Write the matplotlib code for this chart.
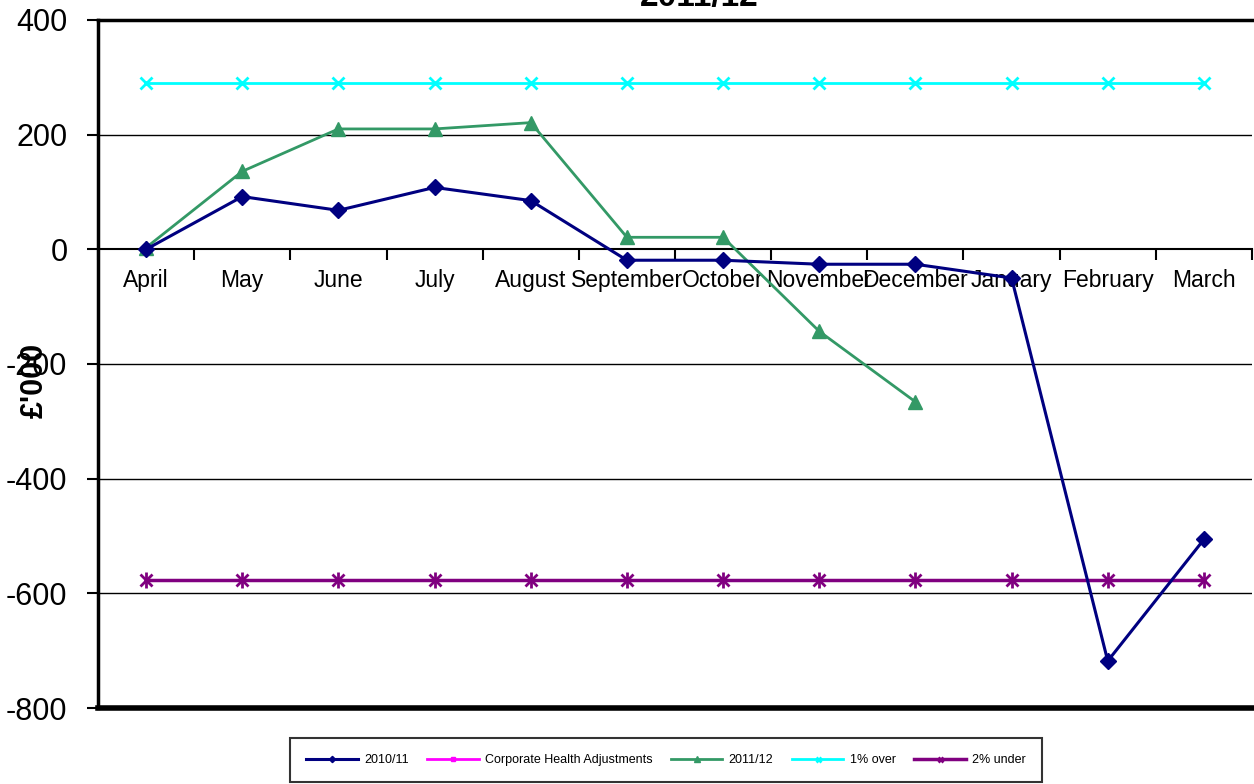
import matplotlib
matplotlib.use("Agg")
import matplotlib.pyplot as plt
import numpy as np

months = ["April", "May", "June", "July", "August", "September", "October",
          "November", "December", "January", "February", "March"]
s2010 = [0, 92, 68, 108, 85, -19, -19, -26, -26, -50, -718, -506]
corp_adj = []
s2011 = [3, 136, 210, 210, 221, 21, 21, -143, -266]
over1 = [290] * 12
under2 = [-576] * 12
yticks = [-800, -600, -400, -200, 0, 200, 400]

plt.rcParams['font.family'] = ['Liberation Sans', 'DejaVu Sans']

fig = plt.figure(figsize=(12.54, 7.84), dpi=100)
ax = fig.add_axes([98/1254, 1-708/784, (1252-98)/1254, (708-20)/784])

x = np.arange(len(months)) + 0.5
ax.plot(x, s2010, color='#000080', lw=2.2, marker='D', ms=8, label='2010/11', zorder=5)
ax.plot(x[:len(corp_adj)], corp_adj, color='#FF00FF', lw=2, marker='s', ms=6,
        label='Corporate Health Adjustments')
ax.plot(x[:len(s2011)], s2011, color='#339966', lw=2, marker='^', ms=10, label='2011/12', zorder=4)
ax.plot(x, over1, color='#00FFFF', lw=2, marker='x', ms=9, mew=2, label='1% over')
ax.plot(x, under2, color='#800080', lw=2.5, marker='x', ms=9, mew=2, label='2% under')
ax.plot(x, under2, color='#800080', lw=0, marker='|', ms=11, mew=2)

ax.set_xlim(0, 12)
ax.set_ylim(-800, 400)
ax.set_yticks(yticks)
ax.set_yticklabels([str(v) for v in yticks], fontsize=22)
ax.tick_params(axis='y', length=8, width=1.5, direction='out', pad=14)
for v in yticks:
    if v not in (0, 400, -800):
        ax.axhline(v, color='black', lw=1, zorder=1)

ax.spines['right'].set_visible(False)
ax.spines['left'].set_linewidth(2.5)
ax.spines['top'].set_linewidth(2.5)
ax.spines['bottom'].set_position(('data', 0))
ax.spines['bottom'].set_linewidth(1.5)
ax.axhline(-800, color='black', lw=4, clip_on=False, zorder=6)

ax.set_xticks(np.arange(0, 13))
ax.set_xticklabels([])
ax.set_xticks(x, minor=True)
ax.set_xticklabels(months, minor=True, fontsize=16.5)
ax.tick_params(axis='x', which='major', length=8, width=1.5, direction='out')
ax.tick_params(axis='x', which='minor', length=0, pad=14)

fig.text(35/1254, 1-380/784, "£'000", rotation=90, fontsize=22, fontweight='bold',
         ha='center', va='center')
fig.text(699/1254, 1-6/784, "2011/12", fontsize=24, fontweight='bold',
         ha='center', va='baseline')

leg = fig.legend(loc='center', bbox_to_anchor=(666/1254, 1-760/784), ncol=5,
                 fontsize=9, frameon=True, fancybox=False, edgecolor='black',
                 handlelength=4.1, handletextpad=0.5, markerscale=0.4,
                 borderpad=1.3, columnspacing=1.5)
leg.get_frame().set_linewidth(1.5)

fig.savefig("out.png", dpi=100)
